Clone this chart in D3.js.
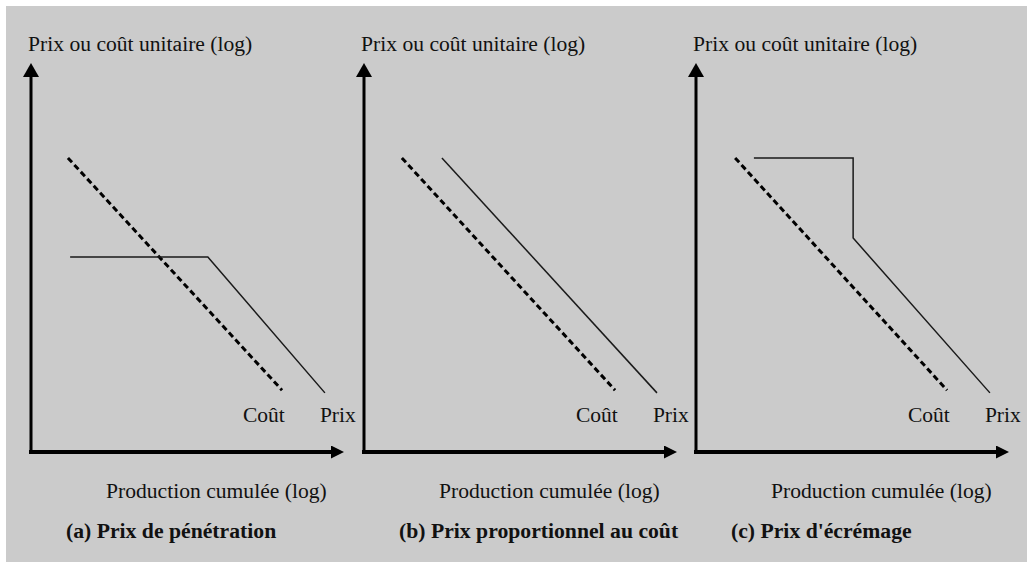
<!DOCTYPE html>
<html>
<head>
<meta charset="utf-8">
<script src="https://cdn.jsdelivr.net/npm/d3@7"></script>
<style>
  html, body { margin: 0; padding: 0; background: #ffffff; }
  svg { display: block; }
  text { font-family: "Liberation Serif", "Times New Roman", serif; fill: #111; }
</style>
</head>
<body>
<svg id="chart" width="1027" height="562"></svg>
<script>
// Three pricing strategies on log–log axes (unit cost vs cumulated production).
// Coordinates are in axis units: 0–10 along each axis.
const panelKeys = ["a", "b", "c"];
const captions = ["(a) Prix de pénétration", "(b) Prix proportionnel au coût", "(c) Prix d'écrémage"];
const yAxisTitle = "Prix ou coût unitaire (log)";
const xAxisTitle = "Production cumulée (log)";
const costLabel = "Coût";
const priceLabel = "Prix";

// Cost curve (dashed) endpoints per panel
const costA = [[1.18, 7.56], [8.02, 1.59]];
const costB = [[1.21, 7.56], [8.02, 1.59]];
const costC = [[1.25, 7.56], [8.02, 1.59]];

// Price curve (solid) vertices per panel
const priceA = [[1.25, 5.01], [5.65, 5.01], [9.39, 1.52]];
const priceB = [[2.49, 7.56], [9.36, 1.52]];
const priceC = [[1.85, 7.56], [5.02, 7.56], [5.02, 5.50], [9.39, 1.52]];

// Curve label anchors
const costLabelPos = [6.77, 0.77];
const priceLabelPos = [9.23, 0.77];

const costs = [costA, costB, costC];
const prices = [priceA, priceB, priceC];

const W = 1027, H = 562;
const svg = d3.select("#chart");

// grey canvas
svg.append("rect").attr("x", 6).attr("y", 6).attr("width", W - 6).attr("height", H - 6)
  .attr("fill", "#cbcbcb");

// arrowheads: tip sits 8px beyond the end of the axis line
const defs = svg.append("defs");
defs.append("marker").attr("id", "arrowX")
  .attr("viewBox", "0 0 13 13").attr("refX", 5).attr("refY", 6.5)
  .attr("markerWidth", 13).attr("markerHeight", 13).attr("markerUnits", "userSpaceOnUse")
  .attr("orient", "auto")
  .append("path").attr("d", "M0,0L13,6.5L0,13Z").attr("fill", "#000");
defs.append("marker").attr("id", "arrowY")
  .attr("viewBox", "0 0 14 16").attr("refX", 6).attr("refY", 8)
  .attr("markerWidth", 14).attr("markerHeight", 16).attr("markerUnits", "userSpaceOnUse")
  .attr("orient", "auto")
  .append("path").attr("d", "M0,0L14,8L0,16Z").attr("fill", "#000");

const originsX = [31, 364, 696];
const axisLen = 313;
const yBottom = 452, yTop = 63;

const line = d3.line();

panelKeys.forEach((key, i) => {
  const ox = originsX[i];
  const x = d3.scaleLinear().domain([0, 10]).range([ox, ox + axisLen]);
  const y = d3.scaleLinear().domain([0, 10]).range([yBottom, yTop]);
  const g = svg.append("g").attr("class", "panel-" + key);

  // axes: bare domain lines with arrowheads
  const xAxis = g.append("g").attr("transform", `translate(0,${yBottom})`)
    .call(d3.axisBottom(x).tickValues([]).tickSizeOuter(0));
  xAxis.select(".domain").attr("stroke", "#000").attr("stroke-width", 4)
    .attr("d", `M${x(0) - 2},0H${x(10) - 8}`)
    .attr("marker-end", "url(#arrowX)");

  const yAxis = g.append("g").attr("transform", `translate(${ox},0)`)
    .call(d3.axisLeft(y).tickValues([]).tickSizeOuter(0));
  yAxis.select(".domain").attr("stroke", "#000").attr("stroke-width", 3)
    .attr("d", `M0,${y(0) + 2}V${y(10) + 8}`)
    .attr("marker-end", "url(#arrowY)");

  // cost curve
  g.append("path")
    .attr("d", line(costs[i].map(d => [x(d[0]), y(d[1])])))
    .attr("fill", "none").attr("stroke", "#000").attr("stroke-width", 3)
    .attr("stroke-dasharray", "6,3.5");

  // price curve
  g.append("path")
    .attr("d", line(prices[i].map(d => [x(d[0]), y(d[1])])))
    .attr("fill", "none").attr("stroke", "#1a1a1a").attr("stroke-width", 1.5)
    .attr("stroke-linejoin", "miter");

  // curve labels
  g.append("text").attr("x", x(costLabelPos[0])).attr("y", y(costLabelPos[1]))
    .attr("font-size", 21.5).text(costLabel);
  g.append("text").attr("x", x(priceLabelPos[0])).attr("y", y(priceLabelPos[1]))
    .attr("font-size", 21.5).text(priceLabel);

  // axis titles
  g.append("text").attr("x", ox - 3).attr("y", 51)
    .attr("font-size", 21.6).text(yAxisTitle);
  g.append("text").attr("x", ox + 75).attr("y", 498)
    .attr("font-size", 21.6).text(xAxisTitle);

  // caption
  g.append("text").attr("x", ox + 35).attr("y", 538)
    .attr("font-size", 21.7).attr("font-weight", "bold").text(captions[i]);
});
</script>
</body>
</html>
